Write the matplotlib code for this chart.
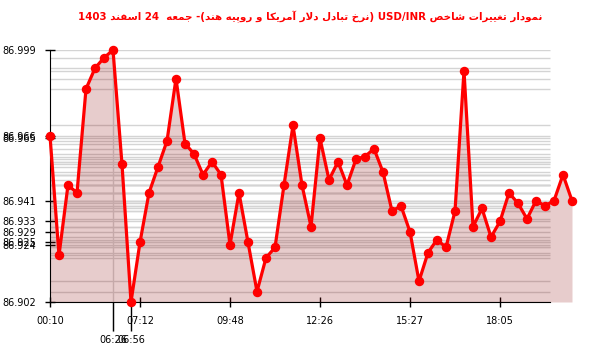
import numpy as np
import matplotlib
matplotlib.use('Agg')
import matplotlib.pyplot as plt

# USD/INR values, one per reading
values = [86.966, 86.920, 86.947, 86.944, 86.984, 86.992, 86.996, 86.999, 86.955, 86.902,
          86.925, 86.944, 86.954, 86.964, 86.988, 86.963, 86.959, 86.951, 86.956, 86.951,
          86.924, 86.944, 86.925, 86.906, 86.919, 86.923, 86.947, 86.970, 86.947, 86.931,
          86.965, 86.949, 86.956, 86.947, 86.957, 86.958, 86.961, 86.952, 86.937, 86.939,
          86.929, 86.910, 86.921, 86.926, 86.923, 86.937, 86.991, 86.931, 86.938, 86.927,
          86.933, 86.944, 86.940, 86.934, 86.941, 86.939, 86.941, 86.951, 86.941]

time_ticks = [0, 10, 20, 30, 40, 50]
time_labels = ['00:10', '07:12', '09:48', '12:26', '15:27', '18:05']
extreme_ticks = [7, 9]
extreme_labels = ['06:26', '06:56']

y_labels = [86.999, 86.966, 86.965, 86.941, 86.933, 86.929, 86.925, 86.924, 86.902]

title = 'نمودار تغییرات شاخص USD/INR (نرخ تبادل دلار آمریکا و روپیه هند)- جمعه  24 اسفند 1403'

# minimal persian shaping (isolated, final, initial, medial)
FORMS = {
    '\u0627': ('\uFE8D', '\uFE8E', None, None),
    '\u0622': ('\uFE81', '\uFE82', None, None),
    '\u0628': ('\uFE8F', '\uFE90', '\uFE91', '\uFE92'),
    '\u067E': ('\uFB56', '\uFB57', '\uFB58', '\uFB59'),
    '\u062A': ('\uFE95', '\uFE96', '\uFE97', '\uFE98'),
    '\u062C': ('\uFE9D', '\uFE9E', '\uFE9F', '\uFEA0'),
    '\u062E': ('\uFEA5', '\uFEA6', '\uFEA7', '\uFEA8'),
    '\u062F': ('\uFEA9', '\uFEAA', None, None),
    '\u0631': ('\uFEAD', '\uFEAE', None, None),
    '\u0633': ('\uFEB1', '\uFEB2', '\uFEB3', '\uFEB4'),
    '\u0634': ('\uFEB5', '\uFEB6', '\uFEB7', '\uFEB8'),
    '\u0635': ('\uFEB9', '\uFEBA', '\uFEBB', '\uFEBC'),
    '\u0639': ('\uFEC9', '\uFECA', '\uFECB', '\uFECC'),
    '\u063A': ('\uFECD', '\uFECE', '\uFECF', '\uFED0'),
    '\u0641': ('\uFED1', '\uFED2', '\uFED3', '\uFED4'),
    '\u06A9': ('\uFB8E', '\uFB8F', '\uFB90', '\uFB91'),
    '\u0643': ('\uFB8E', '\uFB8F', '\uFB90', '\uFB91'),
    '\u0644': ('\uFEDD', '\uFEDE', '\uFEDF', '\uFEE0'),
    '\u0645': ('\uFEE1', '\uFEE2', '\uFEE3', '\uFEE4'),
    '\u0646': ('\uFEE5', '\uFEE6', '\uFEE7', '\uFEE8'),
    '\u0647': ('\uFEE9', '\uFEEA', '\uFEEB', '\uFEEC'),
    '\u0648': ('\uFEED', '\uFEEE', None, None),
    '\u06CC': ('\uFBFC', '\uFBFD', '\uFBFE', '\uFBFF'),
    '\u064A': ('\uFBFC', '\uFBFD', '\uFBFE', '\uFBFF'),
}
LAM_ALEF = {'\u0627': ('\uFEFB', '\uFEFC'), '\u0622': ('\uFEF5', '\uFEF6')}


def shape(word):
    out = []
    prev_join = False
    i = 0
    while i < len(word):
        c = word[i]
        if c not in FORMS:
            out.append(c)
            prev_join = False
            i += 1
            continue
        nxt = word[i + 1] if i + 1 < len(word) else None
        if c == '\u0644' and nxt in LAM_ALEF:
            out.append(LAM_ALEF[nxt][1] if prev_join else LAM_ALEF[nxt][0])
            prev_join = False
            i += 2
            continue
        iso, fin, ini, med = FORMS[c]
        jn = ini is not None and nxt in FORMS
        if prev_join and jn:
            out.append(med)
        elif prev_join:
            out.append(fin)
        elif jn:
            out.append(ini)
        else:
            out.append(iso)
        prev_join = jn
        i += 1
    return ''.join(out)


def visual(s):
    res = []
    for t in s.split(' '):
        if any(ch in FORMS for ch in t):
            t = shape(t)[::-1].translate(str.maketrans('()', ')('))
        res.append(t)
    return ' '.join(res[::-1])


x = np.arange(len(values))
ymin, ymax = min(values), max(values)
grid_end = 55.5

fig = plt.figure(figsize=(6, 3.52), dpi=100)
ax = fig.add_axes([50 / 600, 50 / 352, 522 / 600, 252 / 352])

# gridlines at every value
ax.hlines(values, 0, grid_end, colors='#d4d4d4', linewidth=1, zorder=1)
ax.axvline(values.index(ymax), color='#d4d4d4', linewidth=1, ymin=-0.115, ymax=1, clip_on=False, zorder=1)

ax.fill_between(x, values, ymin, color='darkred', alpha=0.2, linewidth=0, zorder=2)
ax.plot(x, values, color='red', linewidth=2.3, marker='o', markersize=5.8, clip_on=False, zorder=3)

ax.set_xlim(0, len(values) - 1)
ax.set_ylim(ymin, ymax)

for s in ['top', 'right']:
    ax.spines[s].set_visible(False)
ax.spines['bottom'].set_bounds(0, grid_end)

ax.set_yticks(y_labels)
ax.set_yticklabels(['%.3f' % v for v in y_labels])
for lab in ax.get_yticklabels():
    lab.set_horizontalalignment('left')
ax.tick_params(axis='y', direction='inout', length=7.2, width=1, pad=31, labelsize=7)

ax.set_xticks(time_ticks)
ax.set_xticklabels(time_labels)
ax.set_xticks(extreme_ticks, minor=True)
ax.set_xticklabels(extreme_labels, minor=True)
ax.tick_params(axis='x', which='major', direction='inout', length=7.2, width=1, pad=6.5, labelsize=7)
ax.tick_params(axis='x', which='minor', direction='out', length=21, width=1, pad=2.5, labelsize=7)
ax.xaxis.get_minor_ticks()[0].tick1line.set_color('#d4d4d4')

fig.text(0.517, 1 - 17 / 352, visual(title), ha='center', va='center',
         color='red', fontsize=7.4, fontweight='bold')

fig.savefig('out.png', dpi=100)
